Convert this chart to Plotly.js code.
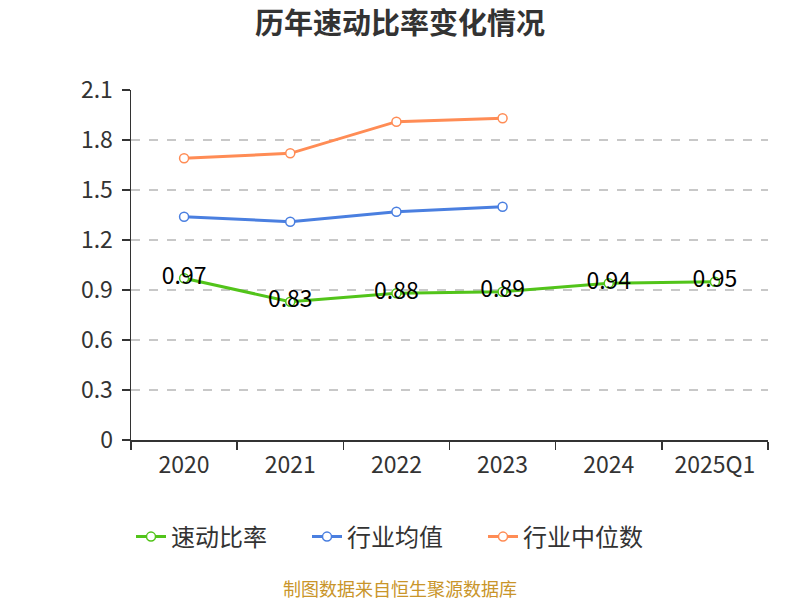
<!DOCTYPE html>
<html>
<head>
<meta charset="utf-8">
<script src="https://cdn.plot.ly/plotly-3.0.1.min.js"></script>
<style>html,body{margin:0;padding:0;background:#fff;}#chart{width:800px;height:600px;}</style>
</head>
<body>
<div id="chart"></div>
<script>
const categories = ["2020", "2021", "2022", "2023", "2024", "2025Q1"];
const quickRatio = [0.97, 0.83, 0.88, 0.89, 0.94, 0.95];
const industryMean = [1.34, 1.31, 1.37, 1.40];
const industryMedian = [1.69, 1.72, 1.91, 1.93];
const yTickVals = [0, 0.3, 0.6, 0.9, 1.2, 1.5, 1.8, 2.1];
const yTickText = ["0", "0.3", "0.6", "0.9", "1.2", "1.5", "1.8", "2.1"];

const FONT = '"Noto Sans CJK SC", "Noto Sans", sans-serif';

function lineTrace(name, ys, color, withText) {
  const t = {
    type: 'scatter',
    mode: withText ? 'lines+markers+text' : 'lines+markers',
    name: name,
    x: categories.slice(0, ys.length),
    y: ys,
    line: {color: color, width: 3},
    marker: {symbol: 'circle', size: 9, color: '#ffffff', line: {color: color, width: 1.5}},
    hoverinfo: 'x+y'
  };
  if (withText) {
    t.text = ys.map(v => v.toFixed(2));
    t.textposition = 'middle center';
    t.textfont = {family: FONT, size: 23, color: '#000000'};
  }
  return t;
}

const data = [
  lineTrace('速动比率', quickRatio, '#52c41a', true),
  lineTrace('行业均值', industryMean, '#4a7fe0', false),
  lineTrace('行业中位数', industryMedian, '#ff8c55', false)
];

const layout = {
  width: 800,
  height: 600,
  margin: {l: 131, r: 32, t: 90, b: 160},
  paper_bgcolor: '#ffffff',
  plot_bgcolor: '#ffffff',
  font: {family: FONT, color: '#333333'},
  title: {
    text: '<b>历年速动比率变化情况</b>',
    font: {family: FONT, size: 29, color: '#333333'},
    xref: 'container', x: 0.5, xanchor: 'center',
    yref: 'container', y: 0.96, yanchor: 'middle'
  },
  xaxis: {
    type: 'category',
    range: [-0.5, 5.5],
    showline: true, linecolor: '#333333', linewidth: 1.5,
    ticks: 'outside', tickson: 'boundaries', ticklen: 8, tickcolor: '#333333', tickwidth: 1.5,
    ticklabelstandoff: 4,
    showgrid: false,
    tickfont: {family: FONT, size: 23, color: '#333333'},
    fixedrange: true
  },
  yaxis: {
    range: [0, 2.1],
    tickvals: yTickVals, ticktext: yTickText,
    showline: true, linecolor: '#333333', linewidth: 1.5,
    ticks: 'outside', ticklen: 8, tickcolor: '#333333', tickwidth: 1.5,
    ticklabelstandoff: 4,
    showgrid: true, gridcolor: '#c8c8c8', griddash: 'dash', gridwidth: 1.2,
    zeroline: false,
    tickfont: {family: FONT, size: 23, color: '#333333'},
    fixedrange: true
  },
  showlegend: true,
  legend: {
    orientation: 'h',
    xref: 'paper', x: 0, xanchor: 'left',
    yref: 'container', y: 0.105, yanchor: 'middle',
    font: {family: FONT, size: 24, color: '#333333'},
    entrywidth: 131, entrywidthmode: 'pixels'
  },
  annotations: [{
    text: '制图数据来自恒生聚源数据库',
    xref: 'paper', yref: 'paper',
    x: (400 - 131) / 637, y: (440 - 588) / 350,
    xanchor: 'center', yanchor: 'middle',
    showarrow: false,
    font: {family: FONT, size: 18, color: '#c9952a'}
  }]
};

Plotly.newPlot('chart', data, layout, {displayModeBar: false, staticPlot: true});
</script>
</body>
</html>
